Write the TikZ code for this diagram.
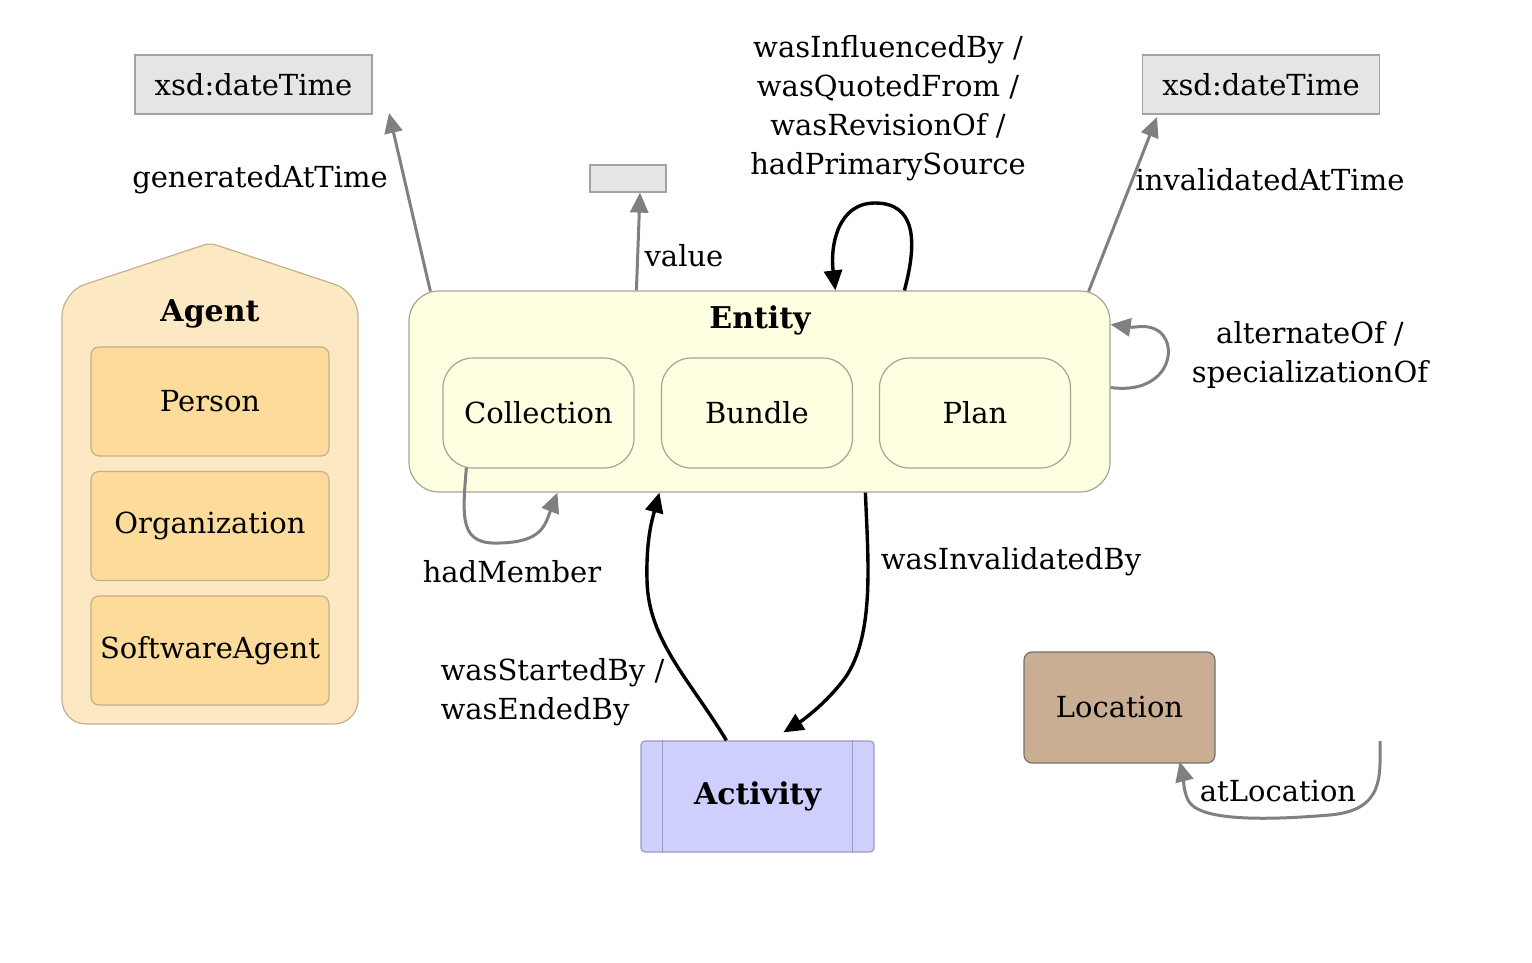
\documentclass[tikz,border=0pt]{standalone}
\usepackage{fontspec}
\setmainfont{DejaVu Serif}
\usetikzlibrary{arrows.meta,calc}

\definecolor{edgegray}{HTML}{808080}
\definecolor{litfill}{HTML}{E5E5E5}
\definecolor{litline}{HTML}{A3A3A3}
\definecolor{agentfill}{HTML}{FDE8C4}
\definecolor{agentinner}{HTML}{FCDB9B}
\definecolor{agentline}{HTML}{C5B08E}
\definecolor{entfill}{HTML}{FEFEE0}
\definecolor{entline}{HTML}{A5A596}
\definecolor{actfill}{HTML}{CFCFFD}
\definecolor{actline}{HTML}{9C9CBC}
\definecolor{locfill}{HTML}{C9AE93}
\definecolor{locline}{HTML}{727272}

\begin{document}
\begin{tikzpicture}[x=0.5pt,y=-0.5pt,line width=.6pt,
  lbl/.style={inner sep=0pt,font=\fontsize{14.5}{19.5}\selectfont},
  lit/.style={draw=litline,fill=litfill,minimum width=118.5pt,minimum height=29.5pt,inner sep=0pt,font=\fontsize{14.5}{17}\selectfont},
  agentsub/.style={draw=agentline,fill=agentinner,rounded corners=4pt,minimum width=119pt,minimum height=54.5pt,inner sep=0pt,font=\fontsize{14.5}{17}\selectfont},
  entsub/.style={draw=entline,fill=entfill,rounded corners=15pt,minimum width=95.5pt,minimum height=55pt,inner sep=0pt,font=\fontsize{14.5}{17}\selectfont},
  title/.style={inner sep=0pt,font=\bfseries\fontsize{15}{18}\selectfont},
  grayedge/.style={draw=edgegray,line width=1.5pt,-{Triangle[length=10pt,width=9pt]}},
  blackedge/.style={draw=black,line width=1.7pt,-{Triangle[length=10pt,width=9pt]}}]
\path[use as bounding box] (0,0) rectangle (1532,963);

% literal boxes
\node[lit] (gentime) at (253.5,84.5) {xsd:dateTime};
\node[lit] (invtime) at (1261,84.5) {xsd:dateTime};
\node[lit,minimum width=38pt,minimum height=13.5pt] (val) at (628,178.5) {};

% agent
\draw[draw=agentline,fill=agentfill] (62,500) [rounded corners=12pt]-- (62,292) [rounded corners=3pt]-- (210,243) [rounded corners=12pt]-- (358,292) -- (358,724) -- (62,724) -- cycle;
\node[title] (agent) at (210,314) {Agent};
\node[agentsub] (person) at (210,401.5) {Person};
\node[agentsub] (org) at (210,526) {Organization};
\node[agentsub] (soft) at (210,650.5) {SoftwareAgent};

% entity
\node[draw=entline,fill=entfill,rounded corners=15pt,minimum width=350.5pt,minimum height=100.5pt] (ent) at (759.5,391.5) {};
\node[title] (entlabel) at (760,320) {Entity};
\node[entsub] (coll) at (538.5,413) {Collection};
\node[entsub] (bundle) at (757,413) {Bundle};
\node[entsub] (plan) at (975,413) {Plan};

% activity and location
\node[draw=actline,fill=actfill,rounded corners=2pt,minimum width=116.5pt,minimum height=55.5pt,inner sep=0pt,font=\bfseries\fontsize{15}{18}\selectfont] (act) at (757.5,796.5) {Activity};
\draw[actline] ($(act.north west)+(22,0)$) -- ($(act.south west)+(22,0)$);
\draw[actline] ($(act.north east)+(-22,0)$) -- ($(act.south east)+(-22,0)$);
\node[draw=locline,fill=locfill,rounded corners=4pt,minimum width=95.5pt,minimum height=55.5pt,inner sep=0pt,font=\fontsize{14.5}{17}\selectfont] (loc) at (1119.5,707.5) {Location};

% free ends
\coordinate (gentip) at (389,113);
\coordinate (invtip) at (1157,117);
\coordinate (locstart) at (1380,741);

% gray connectors
\draw[grayedge] ($(ent.north west)+(22,1)$) -- (gentip);
\draw[grayedge] ($(ent.north east)+(-22,1)$) -- (invtip);
\draw[grayedge] ($(ent.north west)+(228,0)$) -- ($(val.south)+(12,0)$);
\draw[grayedge] ($(ent.east)+(0,-4)$) .. controls (1165,395) and (1180,350) .. (1160,332) .. controls (1148,323) and (1135,328) .. ($(ent.north east)+(0,34)$);
\draw[grayedge] ($(coll.south west)+(24,-1)$) .. controls (462,520) and (460,545) .. (500,543) .. controls (542,542) and (545,525) .. ($(ent.south west)+(149,0)$);
\draw[grayedge] (locstart) .. controls (1380,775) and (1385,810) .. (1330,815) .. controls (1270,820) and (1198,822) .. (1188,800) .. controls (1183,790) and (1183,775) .. ($(loc.south east)+(-36,-2)$);

% black connectors
\draw[blackedge] ($(ent.north west)+(496,0)$) .. controls (918,240) and (915,203) .. (875,203) .. controls (838,203) and (830,245) .. ($(ent.north west)+(427,0)$);
\draw[blackedge] ($(act.north west)+(86,0)$) .. controls (690,680) and (648,640) .. (647,580) .. controls (646,540) and (652,520) .. ($(ent.south west)+(251,0)$);
\draw[blackedge] ($(ent.south west)+(457,0)$) .. controls (868,560) and (875,635) .. (845,678) .. controls (825,705) and (800,722) .. ($(act.north west)+(143,-8)$);

% edge labels
\node[lbl] (genlbl) at (260,180) {generatedAtTime};
\node[lbl] (invlbl) at (1270,180) {invalidatedAtTime};
\node[lbl] (vallbl) at (684,256) {value};
\node[lbl,align=center] (inflbl) at (888,108) {wasInfluencedBy /\\wasQuotedFrom /\\wasRevisionOf /\\hadPrimarySource};
\node[lbl,align=center] (altlbl) at (1310,355) {alternateOf /\\specializationOf};
\node[lbl] (memlbl) at (512,572) {hadMember};
\node[lbl,align=left,anchor=west] (startlbl) at (440,692) {wasStartedBy /\\wasEndedBy};
\node[lbl] (invbylbl) at (1011,562) {wasInvalidatedBy};
\node[lbl] (loclbl) at (1278,791) {atLocation};
\end{tikzpicture}
\end{document}
